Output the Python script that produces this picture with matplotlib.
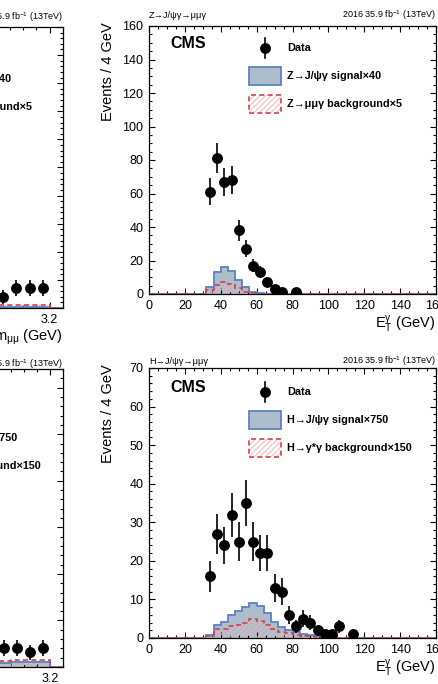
import numpy as np
import matplotlib
matplotlib.use("Agg")
import matplotlib.pyplot as plt
from matplotlib.patches import Rectangle
from matplotlib.lines import Line2D
from matplotlib.ticker import MultipleLocator, FixedLocator

plt.rcParams['font.family'] = ['Liberation Sans', 'DejaVu Sans']
plt.rcParams['mathtext.fontset'] = 'custom'
plt.rcParams['mathtext.rm'] = 'Liberation Sans'
plt.rcParams['mathtext.it'] = 'Liberation Sans:italic'
plt.rcParams['mathtext.bf'] = 'Liberation Sans:bold'
plt.rcParams['hatch.linewidth'] = 0.7

W, H = 439, 684

# photon E_T, 4 GeV bins from 0 to 160 GeV
et_edges = np.arange(0, 164, 4)

# Z -> J/psi gamma
z_et_x = [34, 38, 42, 46, 50, 54, 58, 62, 66, 70, 74, 82]
z_et_n = [61, 81, 67, 68, 38, 27, 17, 13, 7, 3, 1, 1]
z_et_err = [8.0, 9.0, 8.2, 8.3, 6.2, 5.2, 4.1, 3.6, 2.6, 1.7, 1.0, 1.0]
z_et_sig = [0, 0, 0, 0, 0, 0, 0, 0,
            4.2, 13.4, 16.0, 13.8, 8.4, 4.0, 1.4, 0.5,
            0.2, 0.1, 0, 0, 0, 0, 0, 0,
            0, 0, 0, 0, 0, 0, 0, 0,
            0, 0, 0, 0, 0, 0, 0, 0]
z_et_bkg = [0, 0, 0, 0, 0, 0, 0, 0,
            2.3, 5.2, 7.4, 6.2, 3.4, 1.4, 0.5, 0.2,
            0.1, 0, 0, 0, 0, 0, 0, 0,
            0, 0, 0, 0, 0, 0, 0, 0,
            0, 0, 0, 0, 0, 0, 0, 0]

# H -> J/psi gamma
h_et_x = [34, 38, 42, 46, 50, 54, 58, 62, 66, 70,
          74, 78, 82, 86, 90, 94, 98, 102, 106, 114]
h_et_n = [16, 27, 24, 32, 25, 35, 25, 22, 22, 13,
          12, 6, 3, 5, 4, 2, 1, 1, 3, 1]
h_et_err = [4.0, 5.2, 4.9, 5.7, 5.0, 5.9, 5.0, 4.7, 4.7, 3.6,
            3.5, 2.4, 1.7, 2.2, 2.0, 1.4, 1.0, 1.0, 1.7, 1.0]
h_et_sig = [0, 0, 0, 0, 0, 0, 0, 0,
            0.9, 3.3, 4.2, 5.9, 7.1, 8.1, 9.1, 8.3,
            6.5, 4.2, 2.9, 2.0, 1.6, 1.1, 0.8, 0.5,
            0.3, 0.2, 0.1, 0, 0, 0, 0, 0,
            0, 0, 0, 0, 0, 0, 0, 0]
h_et_bkg = [0, 0, 0, 0, 0, 0, 0, 0,
            0.5, 2.3, 2.4, 3.0, 3.5, 4.0, 4.8, 4.5,
            3.5, 2.4, 1.5, 1.2, 0.9, 0.6, 0.4, 0.3,
            0.2, 0.1, 0, 0, 0, 0, 0, 0,
            0, 0, 0, 0, 0, 0, 0, 0]

# dimuon mass (only the right-hand end of these panels is in view)
m_edges = [3.10, 3.12, 3.14, 3.16, 3.18, 3.20, 3.22]
m_x = [3.13, 3.15, 3.17, 3.19]
z_m_n = [3.9, 7.1, 7.1, 7.1]
z_m_err = [2.5, 2.8, 2.8, 2.8]
z_m_sig = [0.3, 0.3, 0.3, 0.3, 0.3, 0]
z_m_bkg = [1.0, 1.0, 1.2, 0.9, 1.1, 0]
h_m_n = [4.0, 4.0, 3.2, 4.0]
h_m_err = [1.7, 1.7, 1.6, 1.7]
h_m_sig = [0.8, 0.8, 1.1, 1.1, 1.1, 0]
h_m_bkg = [1.3, 1.3, 1.6, 1.6, 1.6, 0]

SIG_FILL = '#aebccb'
SIG_EDGE = '#5b82c4'
BKG_EDGE = '#d2404f'
BKG_HATCH = '#f0b4b8'

fig = plt.figure(figsize=(W / 100, H / 100), dpi=100)


def fx(x):
    return x / W


def fy(y):
    return 1 - y / H


def add_axes_px(left, top, right, bottom):
    return fig.add_axes([left / W, 1 - bottom / H, (right - left) / W, (bottom - top) / H])


def draw_hists(ax, edges, sig, bkg):
    ax.stairs(sig, edges, fill=True, facecolor=SIG_FILL, edgecolor='none', zorder=1)
    ax.stairs(bkg, edges, fill=True, facecolor='none', edgecolor=BKG_HATCH,
              hatch='//////', linewidth=0, zorder=2)
    ax.stairs(sig, edges, color=SIG_EDGE, linewidth=1.3, zorder=2)
    ax.stairs(bkg, edges, color=BKG_EDGE, linewidth=1.2, linestyle=(0, (3, 2)), zorder=3)


def draw_data(ax, x, n, err):
    ax.errorbar(x, n, yerr=err, fmt='o', color='black', ms=6.8,
                elinewidth=1.2, capsize=0, zorder=5)


def style_axes(ax, xlim, ylim, xmaj, xmin, ymaj, ymin):
    ax.set_xlim(*xlim)
    ax.set_ylim(*ylim)
    ax.xaxis.set_major_locator(MultipleLocator(xmaj))
    ax.xaxis.set_minor_locator(MultipleLocator(xmin))
    ax.yaxis.set_major_locator(MultipleLocator(ymaj))
    ax.yaxis.set_minor_locator(MultipleLocator(ymin))
    ax.tick_params(which='both', direction='in', top=True, right=True, width=0.8,
                   labelsize=9)
    ax.tick_params(which='major', length=4.5, pad=4)
    ax.tick_params(which='minor', length=2.3)
    for s in ax.spines.values():
        s.set_linewidth(0.9)


def decorate(left, right, base, proc, sig_label, bkg_label, leg_y, cms_y, leg_dx=0):
    # header line
    fig.text(fx(left), fy(base), proc, fontsize=6.7, va='baseline', ha='left')
    fig.text(fx(right), fy(base), '2016 35.9 fb$^{-1}$ (13TeV)', fontsize=6.5,
             va='baseline', ha='right')
    fig.text(fx(left + 21), fy(cms_y), 'CMS', fontsize=11.5, fontweight='bold',
             va='center', ha='left')
    # legend
    lx = left + leg_dx
    mx = lx + 116
    fig.add_artist(Line2D([fx(mx), fx(mx)], [fy(leg_y - 10), fy(leg_y + 10)],
                          color='black', lw=1.2, transform=fig.transFigure))
    fig.add_artist(Line2D([fx(mx)], [fy(leg_y)], marker='o', ms=6.8, color='black',
                          transform=fig.transFigure))
    y1 = leg_y + 28
    fig.add_artist(Rectangle((fx(lx + 100), fy(y1 + 9)), 32 / W, 18 / H,
                             facecolor=SIG_FILL, edgecolor=SIG_EDGE, lw=1.3,
                             transform=fig.transFigure))
    y2 = leg_y + 56
    fig.add_artist(Rectangle((fx(lx + 100), fy(y2 + 9)), 32 / W, 18 / H,
                             facecolor='white', edgecolor=BKG_HATCH, hatch='//////',
                             lw=0, transform=fig.transFigure))
    fig.add_artist(Rectangle((fx(lx + 100), fy(y2 + 9)), 32 / W, 18 / H,
                             facecolor='none', edgecolor=BKG_EDGE, lw=1.2,
                             linestyle=(0, (3, 2)), transform=fig.transFigure))
    for y, lab in [(leg_y, 'Data'), (y1, sig_label), (y2, bkg_label)]:
        fig.text(fx(lx + 138), fy(y), lab, fontsize=7.8, fontweight='bold',
                 va='center', ha='left')


# ---- right column: photon E_T ----
panels_et = [
    (26, 294, 18.5, z_et_x, z_et_n, z_et_err, z_et_sig, z_et_bkg, 160, 20, 5,
     'Z→J/ψγ→μμγ', 'Z→J/ψγ signal×40', 'Z→μμγ background×5', 48, 43),
    (368, 638, 364, h_et_x, h_et_n, h_et_err, h_et_sig, h_et_bkg, 70, 10, 2,
     'H→J/ψγ→μμγ', 'H→J/ψγ signal×750', 'H→γ*γ background×150', 392, 387),
]
for (top, bottom, base, x, n, err, sig, bkg, ymax, ymaj, ymin,
     proc, slab, blab, leg_y, cms_y) in panels_et:
    ax = add_axes_px(149, top, 436, bottom)
    draw_hists(ax, et_edges, sig, bkg)
    draw_data(ax, x, n, err)
    style_axes(ax, (0, 160), (0, ymax), 20, 5, ymaj, ymin)
    fig.text(fx(436), fy(bottom + 35), r'E$_{\mathrm{T}}^{\mathrm{\gamma}}$ (GeV)',
             fontsize=10.5, ha='right', va='baseline')
    fig.text(fx(108), fy(top + 46), 'Events / 4 GeV', fontsize=10.5,
             rotation=90, ha='center', va='center')
    decorate(149, 436, base, proc, slab, blab, leg_y, cms_y)

# ---- left column: dimuon mass (cut off by the frame) ----
panels_m = [
    (-231, 27, 308, 19.5, z_m_n, z_m_err, z_m_sig, z_m_bkg, 100, 10, 2,
     'Z→J/ψγ→μμγ', 'Z→J/ψγ signal×40', 'Z→μμγ background×5', 51, 45, 10),
    (-224, 369, 667, 367, h_m_n, h_m_err, h_m_sig, h_m_bkg, 64, 10, 2,
     'H→J/ψγ→μμγ', 'H→J/ψγ signal×750', 'H→γ*γ background×150', 410, 405, 2),
]
for (left, top, bottom, base, n, err, sig, bkg, ymax, ymaj, ymin,
     proc, slab, blab, leg_y, cms_y, leg_dx) in panels_m:
    ax = add_axes_px(left, top, 63, bottom)
    draw_hists(ax, m_edges, sig, bkg)
    draw_data(ax, m_x, n, err)
    style_axes(ax, (2.78, 3.22), (0, ymax), 0.1, 0.02, ymaj, ymin)
    ax.set_xticks([3.2])
    ax.set_xticklabels(['3.2'])
    ax.xaxis.set_minor_locator(FixedLocator([3.12, 3.14, 3.16, 3.18, 3.22]))
    fig.text(fx(63), fy(bottom + 33), r'm$_{\mathrm{\mu\mu}}$ (GeV)', fontsize=10.5,
             ha='right', va='baseline')
    decorate(left, 63, base, proc, slab, blab, leg_y, cms_y, leg_dx)

fig.savefig('out.png', dpi=100)
